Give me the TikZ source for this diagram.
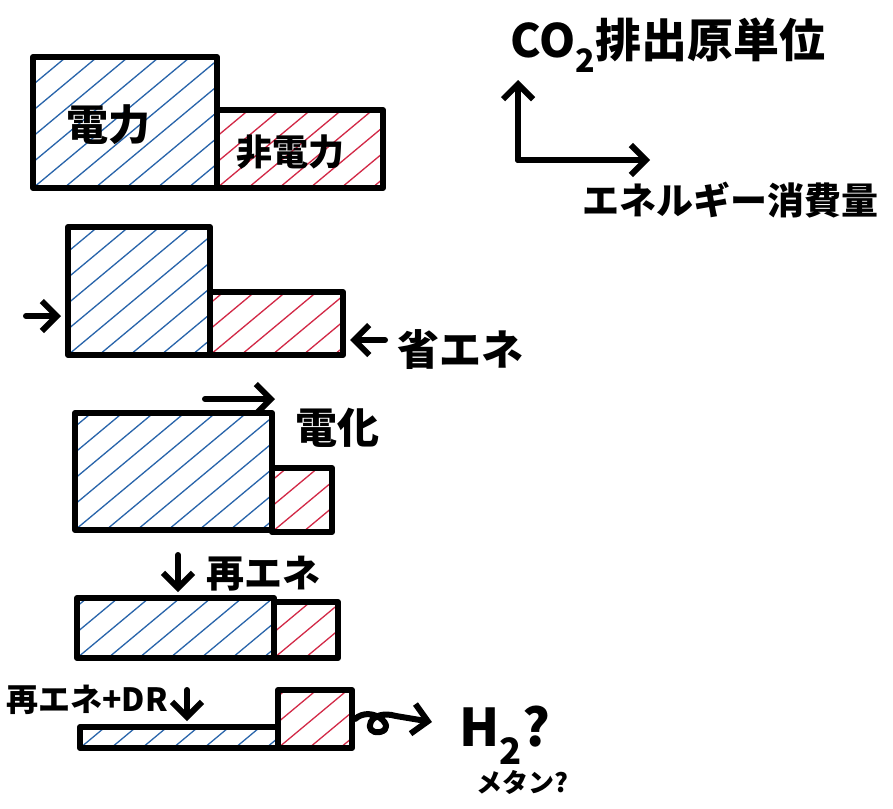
\documentclass[tikz,border=0pt]{standalone}
\usepackage{fontspec}
\newfontfamily\jp{Noto Sans CJK JP}
\usetikzlibrary{arrows.meta,fit,calc}
\definecolor{hblue}{RGB}{40,100,170}
\definecolor{hred}{RGB}{210,40,70}
\tikzset{
  outline/.style={draw=black, line width=6pt, line join=round, inner sep=0pt},
  hatch/.style={path picture={\foreach \k in {-14,...,14}{\draw[#1, line width=1.3pt, line cap=round] ($(path picture bounding box.south west)+(\k*31,0)$) -- ++(300,-250);}}},
  bbox/.style={outline, hatch=hblue},
  rbox/.style={outline, hatch=hred},
  fs/.style={font=\jp\bfseries\fontsize{#1}{#1}\selectfont, inner sep=0pt},
  arr/.style={line width=6pt, line cap=round, line join=round, -{Straight Barb[length=15pt,width=30pt]}}
}
\begin{document}
\begin{tikzpicture}[x=1pt,y=-1pt]
\useasboundingbox[fill=white] (0,0) rectangle (893,808);
% row 1
\node[bbox, fit={(33,57) (217,188)}] (b1) {};
\node[rbox, fit={(217,110) (383,188)}] (r1) {};
\node[fs=42] (t1) at (108,125) {電力};
\node[fs=36] (t2) at (290,152) {非電力};
% row 2
\node[bbox, fit={(68,227) (210,355)}] (b2) {};
\node[rbox, fit={(210,292) (343,355)}] (r2) {};
\node[fs=42] (t3) at (460,350) {省エネ};
\coordinate (p2) at (26,316);
\draw[arr, shorten >=4pt] (p2) -- (p2 -| b2.west);
\coordinate (p3) at (385,340);
\draw[arr, shorten >=4pt] (p3) -- (p3 -| r2.east);
% row 3
\node[bbox, fit={(75,413) (272,530)}] (b3) {};
\node[rbox, fit={(272,468) (332,532)}] (r3) {};
\node[fs=42] (t4) at (337,428) {電化};
\coordinate (p4) at (205,399);
\draw[arr] (p4) -- (p4 -| b3.east);
% row 4
\node[bbox, fit={(77,598) (274,658)}] (b4) {};
\node[rbox, fit={(274,602) (338,658)}] (r4) {};
\node[fs=38] (t5) at (263,574) {再エネ};
\coordinate (p5) at (178,555);
\draw[arr, shorten >=3pt] (p5) -- (p5 |- b4.north);
% row 5
\node[bbox, fit={(80,727) (278,748)}] (b5) {};
\node[rbox, fit={(278,690) (352,748)}] (r5) {};
\node[fs=32] (t6) at (87,700) {再エネ+DR};
\coordinate (p6) at (187,690);
\draw[arr, shorten >=3pt] (p6) -- (p6 |- b5.north);
\coordinate (sqend) at (432,722);
\draw[arr] (r5.east) .. controls (372,704) and (398,728) .. (380,732)
  .. controls (362,735) and (368,708) .. (396,716) -- (sqend);
\node[fs=52] (t7) at (505,735) {H\textsubscript{2}?};
\node[fs=26] (t8) at (522,782) {メタン?};
% axes
\coordinate (O) at (518,160);
\coordinate (yend) at (518,80);
\coordinate (xend) at (650,160);
\draw[arr] (O) -- (yend);
\draw[arr] (O) -- (xend);
\node[fs=46] (ylab) at (668,45) {CO\textsubscript{2}排出原単位};
\node[fs=37] (xlab) at (730,200) {エネルギー消費量};
\end{tikzpicture}
\end{document}
